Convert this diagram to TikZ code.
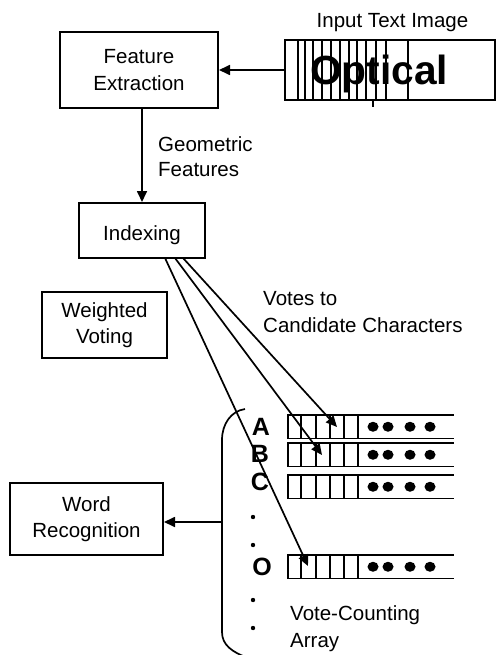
\documentclass[tikz,border=0pt]{standalone}
\usepackage{fontspec}
\setmainfont{Liberation Sans}
\usetikzlibrary{arrows.meta,calc}
\newcommand\lblfont{\fontsize{20.5}{26.5}\selectfont}
\newcommand\keyfont{\fontsize{25}{25}\selectfont\bfseries}
\begin{document}
\begin{tikzpicture}[x=1pt,y=-1pt,
  box/.style={draw,line width=2pt,align=center,font=\lblfont,inner sep=0pt},
  txt/.style={font=\lblfont,inner sep=0pt},
  key/.style={font=\keyfont,inner sep=0pt,anchor=base},
  conn/.style={line width=1.7pt,-{Triangle[length=11pt,width=10pt]}},
  grid/.style={line width=1.6pt},
  dot/.style={fill=black,draw=none}]
\fill[white] (0,0) rectangle (498,655);
\useasboundingbox (0,0) rectangle (498,655);

% processing blocks
\node[box,minimum width=158pt,minimum height=76pt] (fe) at (139,70) {Feature\\Extraction};
\node[box,minimum width=126pt,minimum height=55pt,text height=19pt,text depth=0pt] (idx) at (142,230.5) {Indexing};
\node[box,minimum width=125pt,minimum height=66pt] (wv) at (104.5,325) {Weighted\\Voting};
\node[box,minimum width=153pt,minimum height=72pt] (wr) at (86.5,519) {Word\\Recognition};

% input text image strip
\node[txt,anchor=base] (inlbl) at (392.5,28) {Input Text Image};
\node[draw,line width=2pt,minimum width=210pt,minimum height=60pt,inner sep=0pt] (opt) at (390,70) {};
\node[inner sep=0pt,anchor=base west,font=\fontsize{40.7}{40.7}\selectfont\bfseries] (word) at (310,85) {Optical};
\foreach \x in {298,305,313,322,331,340,349,357,366,376,386,408}
  \draw[line width=1.4pt] (\x,40) -- (\x,100);
\draw[line width=1.4pt] (373,100) -- (373,107);

% flow between blocks
\draw[conn] (opt.west) -- (opt.west -| fe.east);
\draw[conn] (idx.north |- fe.south) -- (idx.north);
\node[txt,anchor=base west] (gf1) at (158,152) {Geometric};
\node[txt,anchor=base west] (gf2) at (158,176) {Features};

\node[txt,anchor=base west] (vc1) at (263,305) {Votes to};
\node[txt,anchor=base west] (vc2) at (263,332) {Candidate Characters};

% vote-counting array rows
\foreach \t/\n in {415/A,443/B,475/C,555/O}{
  \draw[grid] (288,\t) rectangle (358,\t+23.5);
  \foreach \x in {301,316,330,344} \draw[grid] (\x,\t) -- (\x,\t+23.5);
  \draw[grid] (358,\t) -- (454,\t);
  \draw[grid] (358,\t+23.5) -- (454,\t+23.5);
  \foreach \x in {373,388,410,430} \fill[dot] (\x,\t+11.75) ellipse (5.5pt and 5pt);
}
\node[key] (kA) at (261,435) {A};
\node[key] (kB) at (260,462) {B};
\node[key] (kC) at (260,490) {C};
\node[key] (kO) at (262,575) {O};
\foreach \y in {517,545,600,628} \fill[dot] (253,\y) circle (2.2pt);

\node[txt,anchor=base west] (va1) at (290,620) {Vote-Counting};
\node[txt,anchor=base west] (va2) at (290,647) {Array};

% bracket around the array
\draw[line width=1.7pt] (245,409) .. controls (231,411) and (222,424) .. (222,440)
  -- (222,632) .. controls (222,645) and (232,652) .. (248,658);
\coordinate (brk) at (222,522);
\draw[conn] (brk) -- (brk -| wr.east);

% votes from the index to candidate cells
\coordinate (s1) at (165,258);
\coordinate (s2) at (175,258);
\coordinate (s3) at (183,258);
\coordinate (tA) at (337,427);
\coordinate (tB) at (322,455);
\coordinate (tO) at (308,566);
\draw[conn] (s1) -- (tO);
\draw[conn] (s2) -- (tB);
\draw[conn] (s3) -- (tA);
\end{tikzpicture}
\end{document}
